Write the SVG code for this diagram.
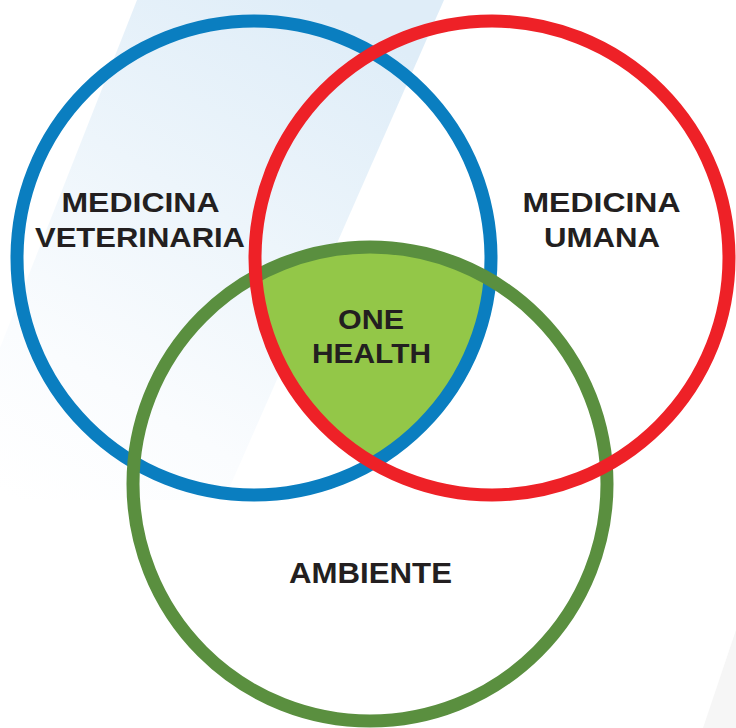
<svg xmlns="http://www.w3.org/2000/svg" width="736" height="728" viewBox="0 0 736 728">
<style>
.ring{fill:none;stroke-width:13}
.lbl{font-family:"Liberation Sans","Noto Sans",sans-serif;font-weight:700;font-size:28px;fill:#231f20;text-anchor:middle}
.amb{font-family:"Liberation Sans","Noto Sans",sans-serif;font-weight:700;font-size:29px;fill:#231f20;text-anchor:middle}
</style>
<defs>
<linearGradient id="band" x1="0.75" y1="0" x2="0.15" y2="1">
<stop offset="0" stop-color="#dfedf8"/>
<stop offset="0.4" stop-color="#edf5fb"/>
<stop offset="0.75" stop-color="#fafcfe"/>
<stop offset="1" stop-color="#ffffff"/>
</linearGradient>
<clipPath id="cb"><circle cx="254" cy="258" r="237"/></clipPath>
<clipPath id="cr"><circle cx="492" cy="258" r="237"/></clipPath>
</defs>
<rect width="736" height="728" fill="#ffffff"/>
<polygon points="137,0 444,0 224,500 -60,500" fill="url(#band)"/>
<polygon points="736,630 736,728 703,728" fill="#f6f6f6"/>
<g id="one-health">
<g clip-path="url(#cb)"><circle cx="370" cy="484" r="237" fill="#93c748" clip-path="url(#cr)"/></g>
</g>
<g id="medicina-veterinaria">
<circle class="ring" cx="254" cy="258" r="237" stroke="#0a7ec0"/>
</g>
<g id="ambiente">
<circle class="ring" cx="370" cy="484" r="237" stroke="#5a8f3f"/>
</g>
<g id="medicina-umana">
<circle class="ring" cx="492" cy="258" r="237" stroke="#ee2127"/>
</g>
<g id="labels">
<text class="lbl" x="140.5" y="212" textLength="158" lengthAdjust="spacingAndGlyphs">MEDICINA</text>
<text class="lbl" x="140" y="247" textLength="210" lengthAdjust="spacingAndGlyphs">VETERINARIA</text>
<text class="lbl" x="601.5" y="212" textLength="158" lengthAdjust="spacingAndGlyphs">MEDICINA</text>
<text class="lbl" x="602" y="247" textLength="116" lengthAdjust="spacingAndGlyphs">UMANA</text>
<text class="lbl" x="371" y="329" textLength="66" lengthAdjust="spacingAndGlyphs">ONE</text>
<text class="lbl" x="371.5" y="363" textLength="119" lengthAdjust="spacingAndGlyphs">HEALTH</text>
<text class="amb" x="370.5" y="583" textLength="163" lengthAdjust="spacingAndGlyphs">AMBIENTE</text>
</g>
<g id="connectors"/>
</svg>
